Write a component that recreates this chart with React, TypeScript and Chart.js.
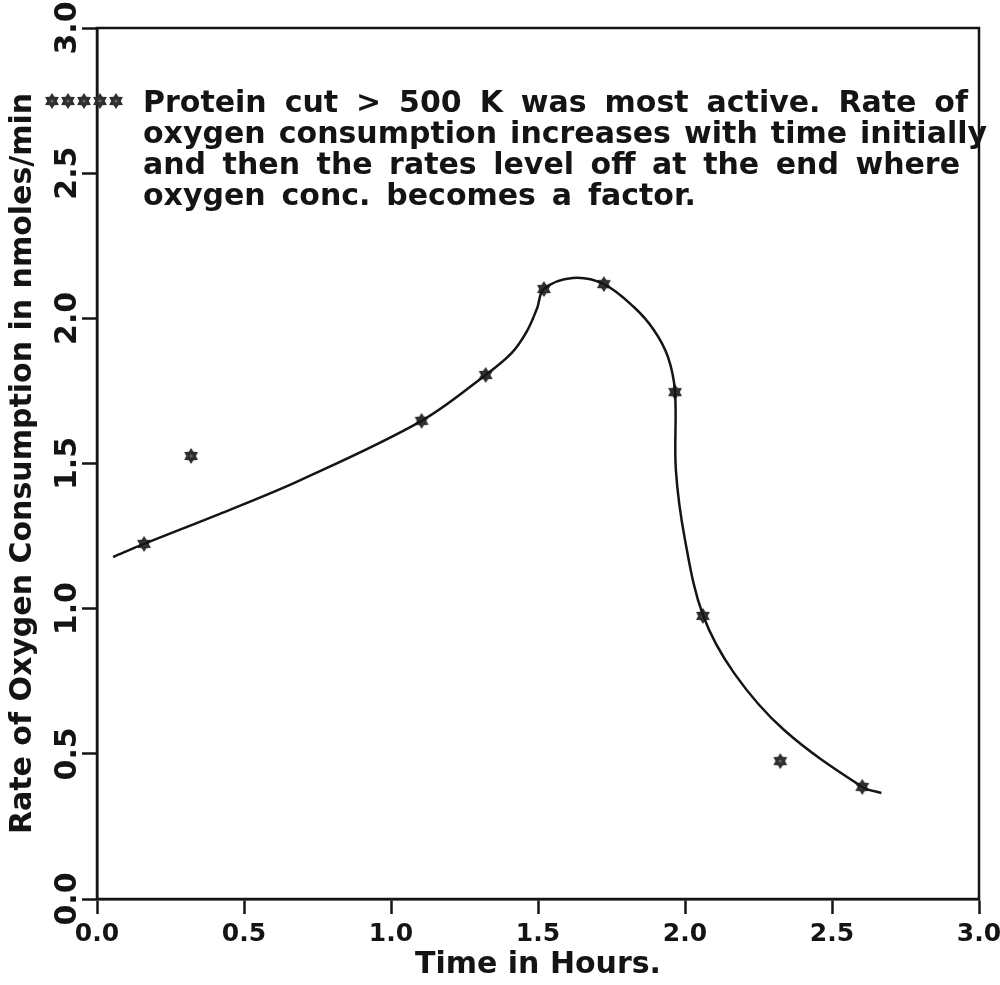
import React, { useEffect, useRef } from "react";
import { Chart, registerables } from "chart.js";

Chart.register(...registerables);

// Measured sample points (stars)
const pointX = [0.16, 0.32, 1.104, 1.322, 1.52, 1.724, 1.966, 2.061, 2.324, 2.603];
const pointY = [1.223, 1.526, 1.647, 1.805, 2.101, 2.118, 1.746, 0.975, 0.475, 0.386];

// Hand-drawn fitted curve
const curveX = [0.055, 0.16, 0.426, 0.692, 1.104, 1.322, 1.41, 1.462, 1.497, 1.52, 1.618, 1.724, 1.826, 1.894, 1.942, 1.966, 1.969, 2.0, 2.061, 2.167, 2.337, 2.603, 2.668];
const curveY = [1.178, 1.223, 1.33, 1.443, 1.647, 1.805, 1.88, 1.955, 2.035, 2.101, 2.139, 2.118, 2.039, 1.96, 1.867, 1.746, 1.477, 1.237, 0.978, 0.778, 0.582, 0.386, 0.365];

const xTickValues = [0, 0.5, 1.0, 1.5, 2.0, 2.5, 3.0];
const yTickValues = [0, 0.5, 1.0, 1.5, 2.0, 2.5, 3.0];

const xTitle = "Time in Hours.";
const yTitle = "Rate of Oxygen Consumption in nmoles/min";

const noteLines = [
  "Protein cut >  500 K was most active. Rate of",
  "oxygen consumption increases with time initially",
  "and then the rates level off at the end where",
  "oxygen conc. becomes a factor.",
];

const FONT = '"DejaVu Sans", sans-serif';
const INK = "#141414";

function makeStar(): HTMLCanvasElement {
  const c = document.createElement("canvas");
  c.width = 18;
  c.height = 18;
  const g = c.getContext("2d")!;
  g.fillStyle = "#2e2e2e";
  g.beginPath();
  for (let i = 0; i < 12; i++) {
    const r = i % 2 === 0 ? 8 : 4.8;
    const a = -Math.PI / 2 + (i * Math.PI) / 6;
    const px = 9 + r * Math.cos(a);
    const py = 9 + r * Math.sin(a);
    if (i === 0) g.moveTo(px, py);
    else g.lineTo(px, py);
  }
  g.closePath();
  g.fill();
  g.fillStyle = "#666";
  g.beginPath();
  g.arc(9, 9, 1.6, 0, Math.PI * 2);
  g.fill();
  return c;
}

export default function App() {
  const ref = useRef<HTMLCanvasElement | null>(null);

  useEffect(() => {
    if (!ref.current) return;
    const star = makeStar();

    const framePlugin = {
      id: "frame",
      afterDraw(chart: any) {
        const { ctx, chartArea } = chart;
        ctx.save();
        ctx.strokeStyle = INK;
        ctx.lineWidth = 2.5;
        ctx.strokeRect(chartArea.left, chartArea.top, chartArea.right - chartArea.left, chartArea.bottom - chartArea.top);
        ctx.restore();
      },
    };

    const notePlugin = {
      id: "note",
      afterDraw(chart: any) {
        const ctx = chart.ctx as CanvasRenderingContext2D;
        ctx.save();
        for (let i = 0; i < 5; i++) {
          ctx.drawImage(star, 52 + i * 16 - 9, 101 - 9);
        }
        ctx.font = `bold 30px ${FONT}`;
        ctx.fillStyle = INK;
        ctx.textBaseline = "alphabetic";
        ctx.textAlign = "left";
        const left = 143;
        const targets = [825, 844, 817];
        const gaps: number[] = [];
        noteLines.forEach((line, i) => {
          const words = line.split(/\s+/);
          const ww = words.reduce((s, w) => s + ctx.measureText(w).width, 0);
          let gap: number;
          if (i < targets.length) {
            gap = (targets[i] - ww) / (words.length - 1);
            gaps.push(gap);
          } else {
            gap = gaps.reduce((a, b) => a + b, 0) / gaps.length;
          }
          let x = left;
          const y = 112 + i * 31;
          words.forEach((w) => {
            ctx.fillText(w, x, y);
            x += ctx.measureText(w).width + gap;
          });
        });
        ctx.restore();
      },
    };

    const chart = new Chart(ref.current, {
      type: "scatter",
      data: {
        datasets: [
          {
            label: "curve",
            data: curveX.map((x, i) => ({ x, y: curveY[i] })),
            showLine: true,
            borderColor: INK,
            borderWidth: 2.5,
            pointRadius: 0,
            tension: 0.35,
            fill: false,
          },
          {
            label: "Protein cut > 500 K",
            data: pointX.map((x, i) => ({ x, y: pointY[i] })),
            showLine: false,
            pointStyle: star as any,
            pointRadius: 9,
            backgroundColor: "#333",
            borderColor: "#333",
          },
        ],
      },
      options: {
        responsive: false,
        animation: false,
        layout: { padding: { left: 0, right: 21, top: 28, bottom: 0 } },
        plugins: {
          legend: { display: false },
          tooltip: { enabled: false },
        },
        scales: {
          x: {
            type: "linear",
            min: 0,
            max: 3,
            afterBuildTicks: (scale: any) => {
              scale.ticks = xTickValues.map((v) => ({ value: v }));
            },
            afterFit: (scale: any) => {
              scale.height = 86;
              scale.paddingLeft = 0;
              scale.paddingRight = 0;
            },
            ticks: {
              callback: (v: any) => Number(v).toFixed(1),
              font: { family: FONT, size: 25, weight: "bold" },
              color: INK,
              padding: 5,
              maxRotation: 0,
              minRotation: 0,
              autoSkip: false,
            },
            grid: {
              drawOnChartArea: false,
              drawTicks: true,
              tickLength: 15,
              tickWidth: 2.5,
              tickColor: INK,
              color: INK,
            },
            border: { display: true, color: INK, width: 2.5 },
            title: {
              display: true,
              text: xTitle,
              font: { family: FONT, size: 30, weight: "bold" },
              color: INK,
              padding: { top: 0, bottom: 2 },
            },
          },
          y: {
            type: "linear",
            min: 0,
            max: 3,
            afterBuildTicks: (scale: any) => {
              scale.ticks = yTickValues.map((v) => ({ value: v }));
            },
            afterFit: (scale: any) => {
              scale.width = 97;
              scale.paddingTop = 0;
              scale.paddingBottom = 0;
            },
            ticks: {
              callback: (v: any) => Number(v).toFixed(1),
              font: { family: FONT, size: 30, weight: "bold" },
              color: INK,
              padding: -13,
              minRotation: 90,
              maxRotation: 90,
              crossAlign: "center",
              autoSkip: false,
            },
            grid: {
              drawOnChartArea: false,
              drawTicks: true,
              tickLength: 15,
              tickWidth: 2.5,
              tickColor: INK,
              color: INK,
            },
            border: { display: true, color: INK, width: 2.5 },
            title: {
              display: true,
              text: yTitle,
              font: { family: FONT, size: 30, weight: "bold" },
              color: INK,
              padding: { top: 5, bottom: 0 },
            },
          },
        },
      },
      plugins: [framePlugin, notePlugin],
    } as any);

    return () => chart.destroy();
  }, []);

  return (
    <div style={{ position: "absolute", left: 0, top: 0, width: 1000, height: 985, background: "#fff" }}>
      <canvas ref={ref} width={1000} height={985} style={{ display: "block" }} />
    </div>
  );
}
